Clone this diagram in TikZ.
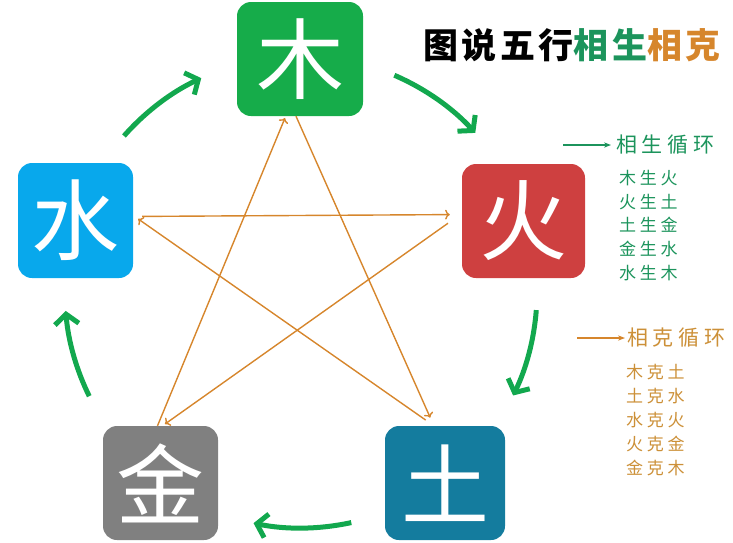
\documentclass[tikz,border=0pt]{standalone}
\usepackage{fontspec}
\newfontfamily\cjk{Noto Sans CJK SC}
\newfontfamily\cjkspaced[LetterSpace=22]{Noto Sans CJK SC}
\newfontfamily\cjktitle[LetterSpace=10]{Noto Sans CJK SC}
\usetikzlibrary{arrows.meta,calc,positioning}
\definecolor{woodgreen}{RGB}{22,172,74}
\definecolor{firered}{RGB}{206,64,64}
\definecolor{earthteal}{RGB}{20,124,158}
\definecolor{metalgray}{RGB}{128,128,128}
\definecolor{waterblue}{RGB}{8,168,236}
\definecolor{shenggreen}{RGB}{18,168,78}
\definecolor{shengtext}{RGB}{28,148,92}
\definecolor{kecolor}{RGB}{214,134,44}
\definecolor{ketext}{RGB}{204,144,56}

\begin{document}
\begin{tikzpicture}[x=1pt,y=1pt,
  elem/.style={rounded corners=14pt, minimum height=114pt, inner sep=0pt, text=white, font=\cjk\fontsize{88}{88}\selectfont},
  ke/.style={->, draw=kecolor, line width=1.4pt},
  sheng/.style={draw=shenggreen, line width=5pt, -{Straight Barb[length=10pt,width=24pt]}},
  lst/.style={inner sep=0pt, align=left, font=\cjkspaced\fontsize{17}{24}\selectfont}]
\useasboundingbox (0,0) rectangle (733,-542);
\node[elem, fill=woodgreen, minimum width=126pt] (wood) at (300,-59) {木};
\node[elem, fill=firered, minimum width=123pt] (fire) at (523.5,-221) {火};
\node[elem, fill=earthteal, minimum width=120pt] (earth) at (445,-483) {土};
\node[elem, fill=metalgray, minimum width=115pt] (metal) at (160.5,-483) {金};
\node[elem, fill=waterblue, minimum width=115pt, minimum height=115pt] (water) at (75.5,-220.5) {水};
% ke cycle
\draw[ke, shorten >=9pt] (wood.-94) -- (earth.101);
\draw[ke, shorten <=10pt, shorten >=6pt] (earth.101) -- (water.5);
\draw[ke, shorten <=9pt, shorten >=12pt] (water.4) -- (fire.174);
\draw[ke, shorten <=17pt, shorten >=3pt] (fire.173) -- (metal.88);
\draw[ke, shorten >=2pt] (metal.93) -- (wood.-104);
% sheng cycle
\coordinate (hub) at (301,-292);
\draw[sheng] ($(hub)+(138.6:236)$) arc[start angle=138.6, delta angle=-23.6, radius=236];
\draw[sheng] ($(hub)+(66.7:236)$) arc[start angle=66.7, delta angle=-24.3, radius=236];
\draw[sheng] ($(hub)+(-4.4:236)$) arc[start angle=-4.4, delta angle=-21.6, radius=236];
\draw[sheng] ($(hub)+(-77.7:236)$) arc[start angle=-77.7, delta angle=-23.9, radius=236];
\draw[sheng] ($(hub)+(-153.8:236)$) arc[start angle=-153.8, delta angle=-21.6, radius=236];
% legend
\node[anchor=west, inner sep=0pt, font=\cjktitle\bfseries\fontsize{35}{35}\selectfont] (title) at (423,-45) {图说五行\textcolor{shengtext}{相生}\textcolor{kecolor}{相克}};
\coordinate (shengtail) at (563,-145);
\node[anchor=west, inner sep=0pt, text=shengtext, font=\cjkspaced\fontsize{21}{21}\selectfont] (shengtitle) at (616,-145) {相生循环};
\draw[shengtext, line width=1.5pt, -{Stealth[length=7pt]}, shorten >=5pt] (shengtail) -- (shengtitle.west);
\node[lst, anchor=north west, text=shengtext, font=\cjkspaced\fontsize{17}{23.75}\selectfont] (shenglist) at (619,-170) {木生火\\火生土\\土生金\\金生水\\水生木};
\coordinate (ketail) at (577,-338);
\node[anchor=west, inner sep=0pt, text=ketext, font=\cjkspaced\fontsize{21}{21}\selectfont] (ketitle) at (627,-338) {相克循环};
\draw[kecolor, line width=1.5pt, -{Stealth[length=7pt]}, shorten >=2pt] (ketail) -- (ketitle.west);
\node[lst, anchor=north west, text=ketext] (kelist) at (626,-364) {木克土\\土克水\\水克火\\火克金\\金克木};
\end{tikzpicture}
\end{document}
